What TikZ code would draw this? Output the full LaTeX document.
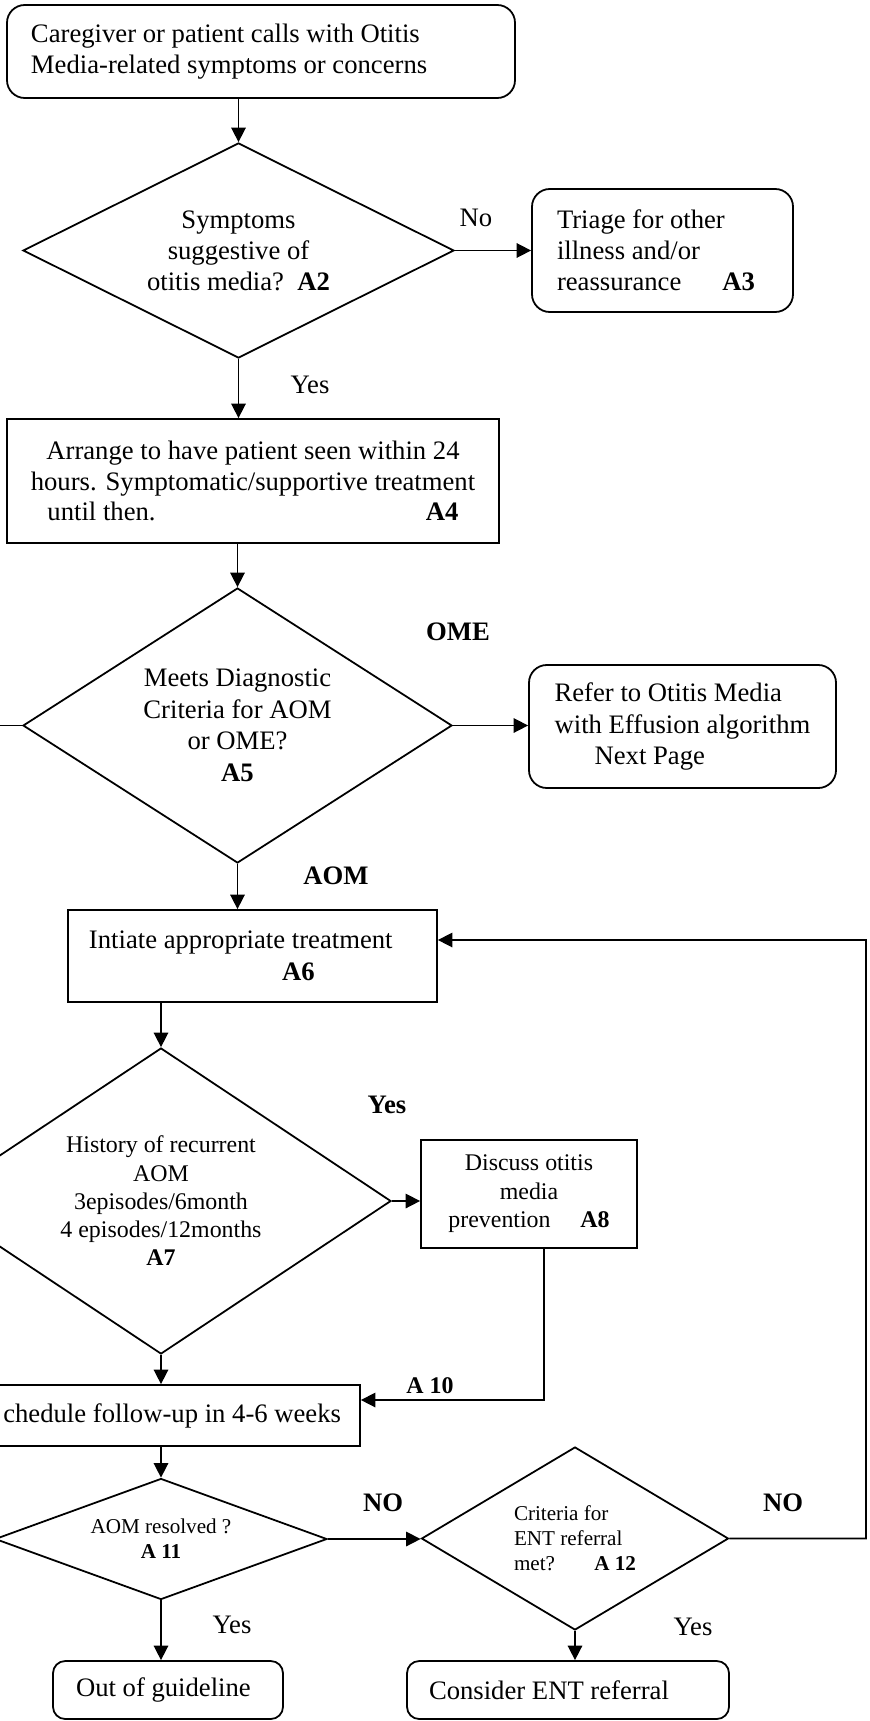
\documentclass[tikz,border=0pt]{standalone}
\usepackage{fontspec}
\setmainfont{Liberation Serif}
\usetikzlibrary{shapes.geometric,arrows.meta}
\newcommand\fA{\fontsize{12}{14}\selectfont}
\newcommand\fB{\fontsize{10.75}{12.7}\selectfont}
\newcommand\fC{\fontsize{9.5}{11.25}\selectfont}
\begin{document}
\begin{tikzpicture}[x=0.45pt,y=-0.45pt,
  base/.style={draw, line width=0.8pt, inner sep=0pt, font=\fA},
  rbox/.style={base, rectangle, rounded corners=8pt},
  sbox/.style={base, rectangle},
  dia/.style={base, diamond},
  arr/.style={line width=0.7pt, -{Triangle[length=6.5pt,width=6.5pt]}},
  ln/.style={line width=0.7pt},
  lbl/.style={inner sep=0pt, font=\fA},
  blbl/.style={inner sep=0pt, font=\fA\bfseries}]
\useasboundingbox (0,0) rectangle (869,1721);
\clip (0,0) rectangle (869,1721);

\node[rbox, minimum width=228.6pt, minimum height=41.85pt, text width=207pt, inner xsep=10.8pt, align=flush left] (top) at (261,51.5) {Caregiver or patient calls with Otitis\\Media-related symptoms or concerns};

\node[dia, minimum width=193.95pt, minimum height=96.75pt, shape aspect=2, align=center] (A2) at (238.5,250.5) {Symptoms\\suggestive of\\otitis media?\ \ \textbf{A2}};

\node[rbox, minimum width=117.45pt, minimum height=55.35pt, text width=94.95pt, inner xsep=11.25pt, align=flush left] (A3) at (662.5,250.5) {Triage for other\\illness and/or\\\hbox to 89.1pt{reassurance\hfill\textbf{A3}}};

\node[sbox, minimum width=221.4pt, minimum height=55.8pt, align=center, font=\fontsize{12}{13.7}\selectfont] (A4) at (253,481) {Arrange to have patient seen within 24\\hours. Symptomatic/supportive treatment\\\hbox to 185pt{until then.\hfill\textbf{A4}}};

\node[dia, minimum width=193.05pt, minimum height=123.75pt, shape aspect=1.56, align=center, font=\fontsize{12}{14.2}\selectfont] (A5) at (237.5,725.5) {Meets Diagnostic\\Criteria for AOM\\or OME?\\\textbf{A5}};

\node[rbox, minimum width=138.15pt, minimum height=55.35pt, align=flush left] (ref) at (682.5,726.5) {Refer to Otitis Media\\with Effusion algorithm\\\hspace*{18pt}Next Page};

\node[sbox, minimum width=166.05pt, minimum height=41.4pt, text width=147.15pt, inner xsep=9.45pt, align=flush left, font=\fontsize{12}{14.4}\selectfont] (A6) at (252.5,956) {Intiate appropriate treatment\\\hspace*{86.85pt}\textbf{A6}};

\node[dia, font=\fB, minimum width=207pt, minimum height=137.7pt, shape aspect=1.5, align=center] (A7) at (161,1201) {History of recurrent\\AOM\\3episodes/6month\\4 episodes/12months\\\textbf{A7}};

\node[sbox, font=\fontsize{10.75}{12.8}\selectfont, minimum width=97.2pt, minimum height=48.6pt, align=center] (A8) at (529,1194) {Discuss otitis\\media\\\hbox to 72.5pt{prevention\hfill\textbf{A8}}};

\node[sbox, minimum width=180pt, minimum height=27.45pt, text width=162.9pt, inner xsep=8.55pt, align=flush right] (fup) at (160,1415.5) {chedule follow-up in 4-6 weeks};

\node[dia, font=\fC, minimum width=149.4pt, minimum height=54.45pt, shape aspect=2.72, align=center] (A11) at (161,1539) {AOM resolved ?\\\textbf{A 11}};

\node[dia, font=\fC, minimum width=138.15pt, minimum height=82.35pt, shape aspect=1.68, align=flush left] (A12) at (575,1538.5) {Criteria for\\ENT referral\\\hbox to 54.9pt{met?\hfill\textbf{A 12}}};

\node[rbox, rounded corners=5.5pt, minimum width=103.5pt, minimum height=26.1pt, text width=82.8pt, inner xsep=10.35pt, align=flush left] (out) at (168,1690) {Out of guideline};
\node[rbox, rounded corners=5.5pt, minimum width=144.9pt, minimum height=26.1pt, text width=125.1pt, inner xsep=9.9pt, align=flush left] (cons) at (568,1690) {Consider ENT referral};

\node[lbl] (lNo) at (476,218) {No};
\node[lbl] (lYes1) at (310,385) {Yes};
\node[blbl] (lOME) at (458,632) {OME};
\node[blbl] (lAOM) at (336,876) {AOM};
\node[blbl] (lYes2) at (387,1105) {Yes};
\node[inner sep=0pt, font=\fontsize{10.75}{12}\selectfont\bfseries] (lA10) at (430,1386) {A 10};
\node[blbl] (lNO1) at (383,1503) {NO};
\node[blbl] (lNO2) at (783,1503) {NO};
\node[lbl] (lYes3) at (232,1625) {Yes};
\node[lbl] (lYes4) at (693,1627) {Yes};

\coordinate (rt) at (866,940);
\coordinate (offL) at (0,725.5);

\draw[arr] (A2.north |- top.south) -- (A2.north);
\draw[arr] (A2.east) -- (A2.east -| A3.west);
\draw[arr] (A2.south) -- (A2.south |- A4.north);
\draw[arr] (A5.north |- A4.south) -- (A5.north);
\draw[arr] (A5.east) -- (A5.east -| ref.west);
\draw[ln] (A5.west) -- (offL);
\draw[arr] (A5.south) -- (A5.south |- A6.north);
\draw[arr] (A7.north |- A6.south) -- (A7.north);
\draw[arr] (A7.east) -- (A7.east -| A8.west);
\draw[arr] (A7.south) -- (A7.south |- fup.north);
\draw[arr] ([xshift=6.75pt]A8.south) |- ([yshift=6.975pt]fup.east);
\draw[arr] (A11.north |- fup.south) -- (A11.north);
\draw[arr] (A11.east) -- (A11.east -| A12.west);
\draw[arr] (A11.south) -- (A11.south |- out.north);
\draw[arr] (A12.south) -- (A12.south |- cons.north);
\draw[arr] (A12.east) -| (rt) -- ([yshift=7.2pt]A6.east);
\end{tikzpicture}
\end{document}
